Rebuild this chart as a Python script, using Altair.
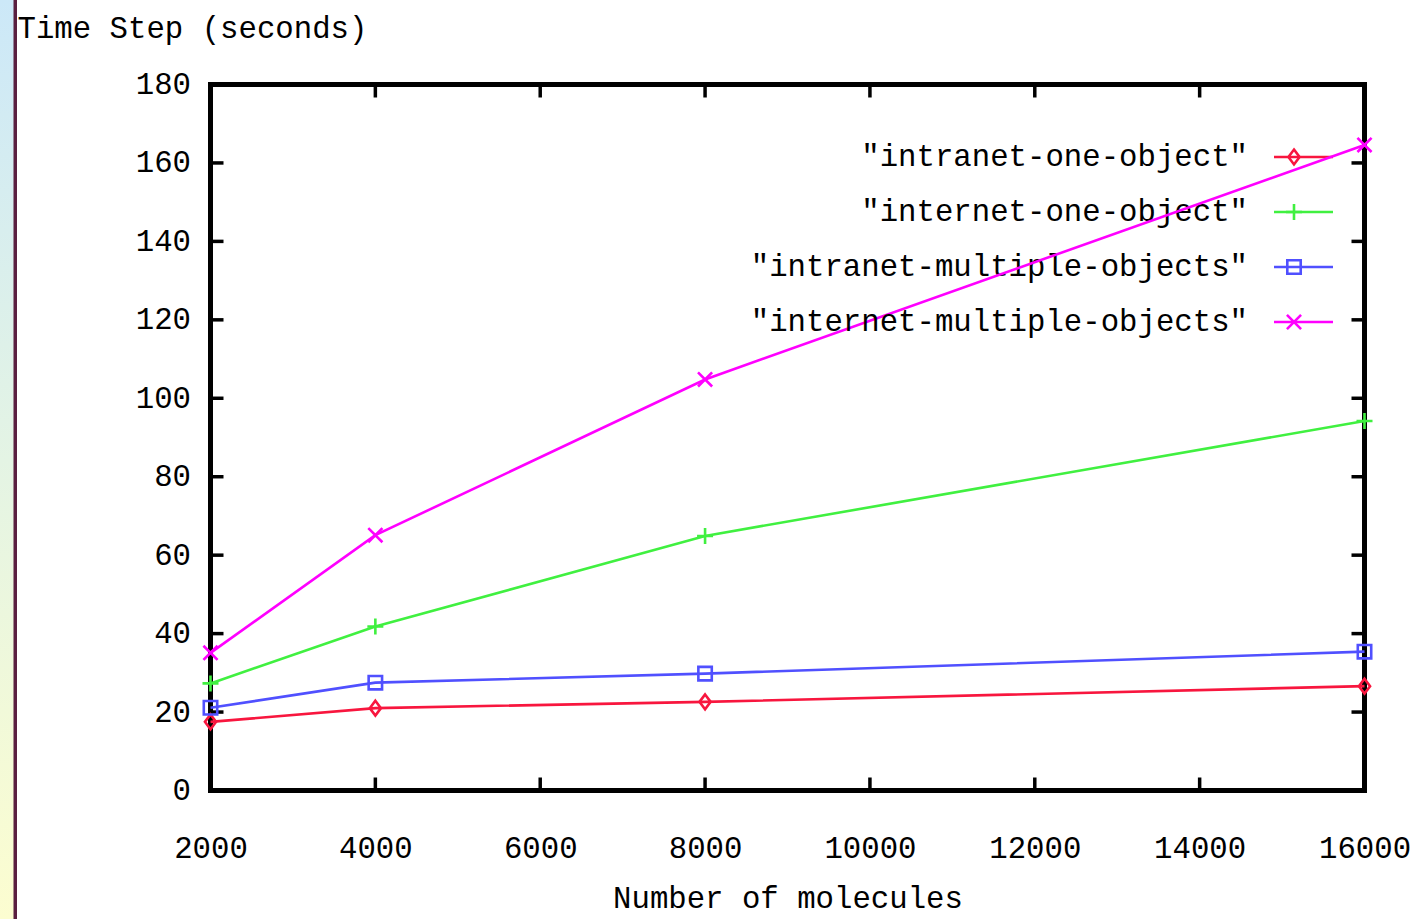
import altair as alt
import pandas as pd

# ---- data ----
molecules = [2000, 4000, 8000, 16000]
intranet_one = [17.5, 21.0, 22.6, 26.6]
internet_one = [27.3, 41.8, 64.9, 94.2]
intranet_multi = [21.1, 27.5, 29.8, 35.4]
internet_multi = [35.1, 65.1, 104.8, 164.6]

series_names = ["intranet-one-object", "internet-one-object",
                "intranet-multiple-objects", "internet-multiple-objects"]
series_values = [intranet_one, internet_one, intranet_multi, internet_multi]
series_colors = ["#f8163e", "#40f040", "#5050ff", "#ff00ff"]

x_ticks = [2000, 4000, 6000, 8000, 10000, 12000, 14000, 16000]
y_ticks = [0, 20, 40, 60, 80, 100, 120, 140, 160, 180]

# ---- layout (pixels) ----
W, H = 1154, 706
LEFT, TOP = 210.5, 84.5
FONT = "Liberation Mono"
FS = 30.7

diamond = "M0,-1L0.75,0L0,1L-0.75,0Z"
plus = "M-1,0H1M0,-1V1"
xcross = "M-1,-1L1,1M-1,1L1,-1"
shapes = [diamond, plus, "square", xcross]
sizes = [220, 256, 180, 200]

xscale = alt.Scale(domain=[2000, 16000], nice=False, zero=False)
yscale = alt.Scale(domain=[0, 180], nice=False)

layers = []

# left decorative strip
strip_df = pd.DataFrame({"a": [0]})
layers.append(
    alt.Chart(strip_df).mark_rect(
        fill=alt.Gradient(
            gradient="linear",
            stops=[alt.GradientStop(color="#cce8f8", offset=0),
                   alt.GradientStop(color="#e4f4e4", offset=0.5),
                   alt.GradientStop(color="#fcfdd0", offset=1)],
            x1=0, x2=0, y1=0, y2=1),
    ).encode(x=alt.value(-LEFT), x2=alt.value(-LEFT + 14),
             y=alt.value(-TOP), y2=alt.value(919 - TOP))
)
layers.append(
    alt.Chart(strip_df).mark_rect(fill="#5a1f40").encode(
        x=alt.value(-LEFT + 13.5), x2=alt.value(-LEFT + 17),
        y=alt.value(-TOP), y2=alt.value(919 - TOP))
)

# axes (labels + titles) carried by an invisible base layer
xt = pd.DataFrame({"x": x_ticks})
yt = pd.DataFrame({"y": y_ticks})

base_axes = alt.Chart(pd.DataFrame({"x": [2000], "y": [0]})).mark_point(opacity=0).encode(
    x=alt.X("x:Q", scale=xscale,
            axis=alt.Axis(values=x_ticks, title="Number of molecules", format="d",
                          labelPadding=43, labelBaseline="top", labelFlush=False,
                          labelOverlap=False,
                          titleBaseline="alphabetic", titleY=117, titleX=W / 2)),
    y=alt.Y("y:Q", scale=yscale,
            axis=alt.Axis(values=y_ticks, title="Time Step (seconds)", format="d",
                          labelPadding=20, labelFlush=False, labelOverlap=False,
                          titleAngle=0, titleAlign="left",
                          titleBaseline="alphabetic", titleX=-LEFT + 17, titleY=-TOP + 37)),
)
layers.append(base_axes)

# inward ticks
TL = 13
layers.append(alt.Chart(xt).mark_rule(color="black", strokeWidth=3.5).encode(
    x=alt.X("x:Q", scale=xscale), y=alt.value(H), y2=alt.value(H - TL)))
layers.append(alt.Chart(xt).mark_rule(color="black", strokeWidth=3.5).encode(
    x=alt.X("x:Q", scale=xscale), y=alt.value(0), y2=alt.value(TL)))
layers.append(alt.Chart(yt).mark_rule(color="black", strokeWidth=3.5).encode(
    y=alt.Y("y:Q", scale=yscale), x=alt.value(0), x2=alt.value(TL)))
layers.append(alt.Chart(yt).mark_rule(color="black", strokeWidth=3.5).encode(
    y=alt.Y("y:Q", scale=yscale), x=alt.value(W), x2=alt.value(W - TL)))

# series + custom gnuplot-style legend
for i, (name, vals, col, shp, sz) in enumerate(zip(series_names, series_values,
                                                    series_colors, shapes, sizes)):
    df = pd.DataFrame({"x": molecules, "y": vals})
    layers.append(alt.Chart(df).mark_line(color=col, strokeWidth=2.6).encode(
        x=alt.X("x:Q", scale=xscale), y=alt.Y("y:Q", scale=yscale)))
    layers.append(alt.Chart(df).mark_point(color=col, shape=shp, size=sz, filled=False,
                                           strokeWidth=2.6, opacity=1).encode(
        x=alt.X("x:Q", scale=xscale), y=alt.Y("y:Q", scale=yscale)))

    ly = 72.5 + 55 * i
    ldf = pd.DataFrame({"t": ['"' + name + '"']})
    layers.append(alt.Chart(ldf).mark_text(font=FONT, fontSize=FS, align="right",
                                           baseline="middle", color="black").encode(
        text="t:N", x=alt.value(1248 - LEFT), y=alt.value(ly)))
    layers.append(alt.Chart(ldf).mark_rule(color=col, strokeWidth=2.6).encode(
        x=alt.value(1274 - LEFT), x2=alt.value(1333 - LEFT), y=alt.value(ly)))
    layers.append(alt.Chart(ldf).mark_point(color=col, shape=shp, size=sz, filled=False,
                                            strokeWidth=2.6, opacity=1).encode(
        x=alt.value(1294 - LEFT), y=alt.value(ly)))

chart = alt.layer(*layers).properties(
    width=W, height=H,
    autosize=alt.AutoSizeParams(type="none"),
    padding={"left": LEFT, "top": TOP, "right": 1416 - LEFT - W, "bottom": 919 - TOP - H},
    background="white",
).configure_view(
    stroke="black", strokeWidth=5, fill="white"
).configure_axis(
    domain=False, grid=False, ticks=False,
    labelFont=FONT, labelFontSize=FS, labelColor="black",
    titleFont=FONT, titleFontSize=FS, titleColor="black", titleFontWeight="normal",
)

chart.save("out.html", embed_options={"renderer": "svg", "actions": False})
